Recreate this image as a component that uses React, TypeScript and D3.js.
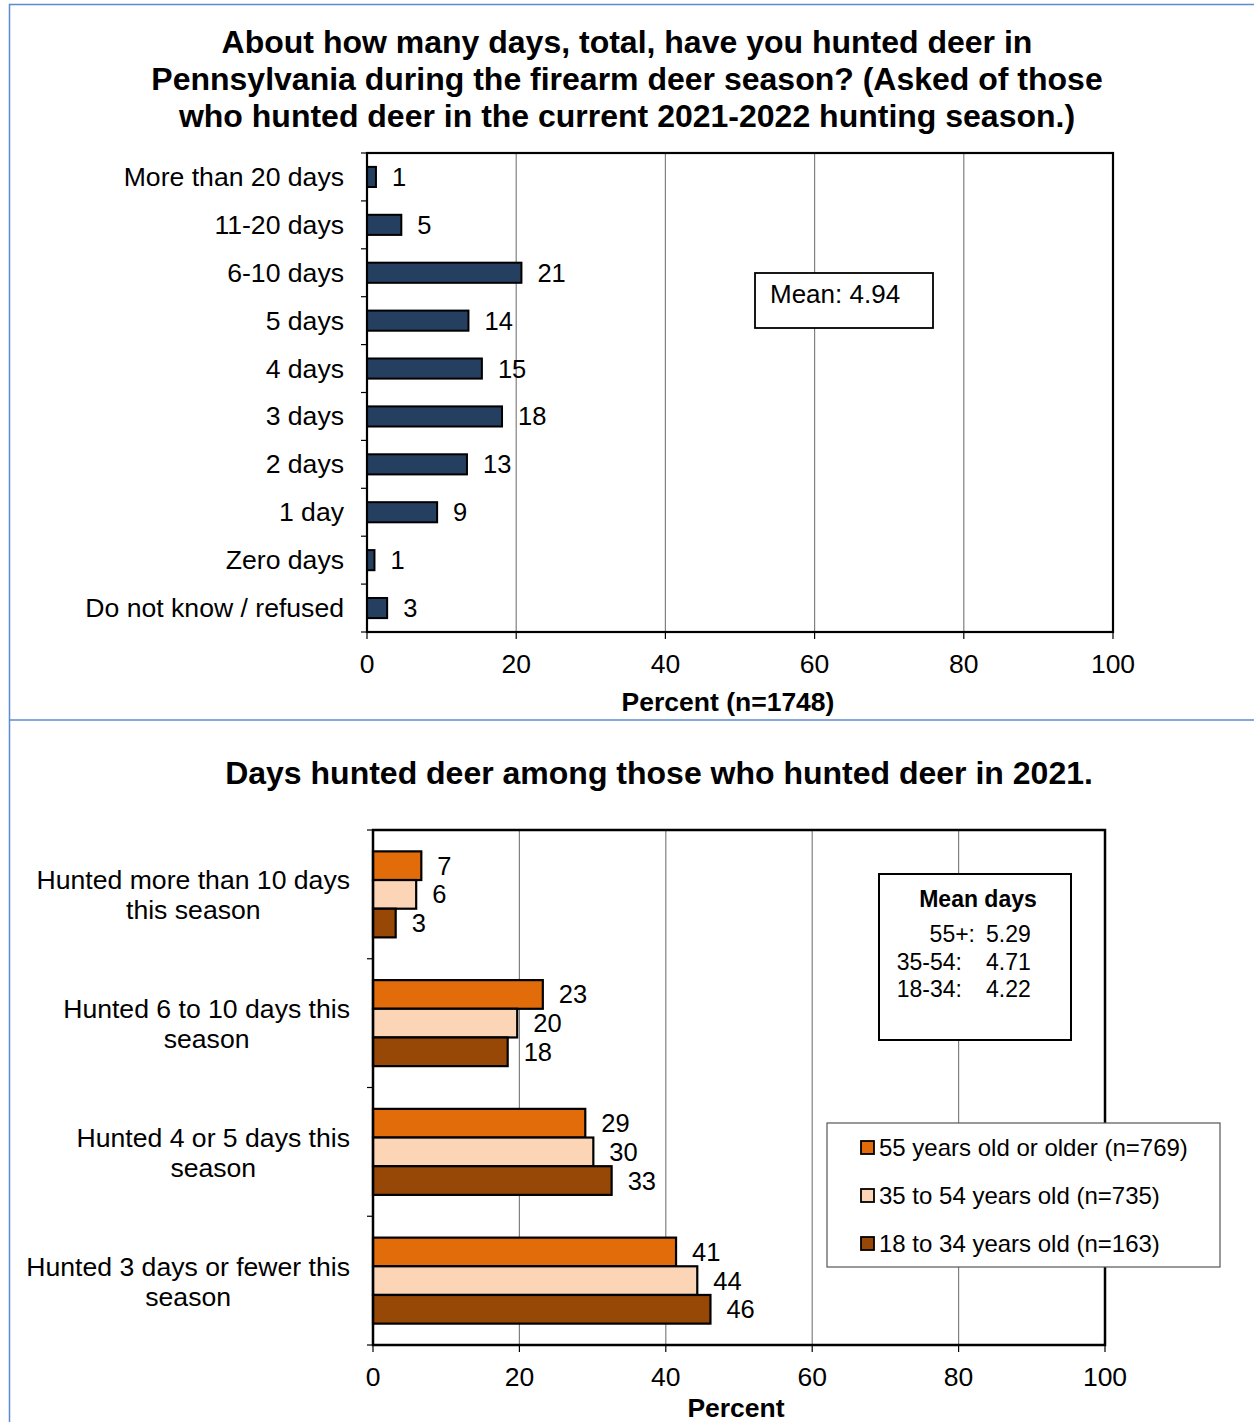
import React from "react";
import * as d3 from "d3";

const topCategories = [
  "More than 20 days",
  "11-20 days",
  "6-10 days",
  "5 days",
  "4 days",
  "3 days",
  "2 days",
  "1 day",
  "Zero days",
  "Do not know / refused",
];
const topValues = [1.2, 4.6, 20.7, 13.6, 15.4, 18.1, 13.4, 9.4, 1.0, 2.7];
const topTitle = [
  "About how many days, total, have you hunted deer in",
  "Pennsylvania during the firearm deer season? (Asked of those",
  "who hunted deer in the current 2021-2022 hunting season.)",
];
const topMean = "Mean: 4.94";
const topAxisTitle = "Percent (n=1748)";
const xTicks = [0, 20, 40, 60, 80, 100];

const bottomGroups = [
  ["Hunted more than 10 days", "this season"],
  ["Hunted 6 to 10 days this", "season"],
  ["Hunted 4 or 5 days this", "season"],
  ["Hunted 3 days or fewer this", "season"],
];
const seriesNames = [
  "55 years old or older (n=769)",
  "35 to 54 years old (n=735)",
  "18 to 34 years old (n=163)",
];
const seriesColors = ["#E36C0A", "#FBD5B5", "#974806"];
const series55 = [6.6, 23.2, 29.0, 41.4];
const series35 = [5.9, 19.7, 30.1, 44.3];
const series18 = [3.1, 18.4, 32.6, 46.1];
const bottomTitle = "Days hunted deer among those who hunted deer in 2021.";
const meanTitle = "Mean days";
const meanLabels = ["55+:", "35-54:", "18-34:"];
const meanValues = ["5.29", "4.71", "4.22"];
const bottomAxisTitle = "Percent";

const FONT = "'Liberation Sans', Arial, Helvetica, sans-serif";

let ctx: CanvasRenderingContext2D | null = null;
function measure(t: string, size: number): number {
  if (!ctx) {
    const c = document.createElement("canvas");
    ctx = c.getContext("2d");
  }
  if (!ctx) return t.length * size * 0.5;
  ctx.font = `${size}px 'Liberation Sans', Arial, sans-serif`;
  return ctx.measureText(t).width;
}

export default function App() {
  const LABEL = 26.6;
  // top chart scales
  const x1 = d3.scaleLinear().domain([0, 100]).range([367, 1113]);
  const y1 = d3.scaleBand<string>().domain(topCategories).range([153, 632]);
  const bh1 = y1.bandwidth() * 0.42;

  // bottom chart scales
  const x2 = d3.scaleLinear().domain([0, 100]).range([373, 1105]);
  const groupKeys = bottomGroups.map((g) => g.join(" "));
  const y2 = d3.scaleBand<string>().domain(groupKeys).range([830, 1345]);
  const bw2 = y2.bandwidth();
  const innerH = bw2 * 0.668;
  const yInner = d3
    .scaleBand<string>()
    .domain(seriesNames)
    .range([(bw2 - innerH) / 2, (bw2 + innerH) / 2]);
  const allSeries = [series55, series35, series18];

  const bottomBoundaries = [...groupKeys.map((k) => y2(k)!), 1345];
  const topBoundaries = [...topCategories.map((k) => y1(k)!), 632];

  return (
    <svg
      width={1254}
      height={1422}
      style={{ position: "absolute", left: 0, top: 0, background: "#fff" }}
      fontFamily={FONT}
    >
      <rect x={0} y={0} width={1254} height={1422} fill="#fff" />
      {/* blue frame */}
      <line x1={9} y1={4.5} x2={1254} y2={4.5} stroke="#5B8BD2" strokeWidth={1.5} />
      <line x1={9.5} y1={4} x2={9.5} y2={1422} stroke="#5B8BD2" strokeWidth={1.5} />
      <line x1={9} y1={720} x2={1254} y2={720} stroke="#5B8BD2" strokeWidth={1.5} />

      {/* ===== TOP CHART ===== */}
      {topTitle.map((t, i) => (
        <text
          key={i}
          x={627}
          y={42 + i * 37}
          textAnchor="middle"
          dominantBaseline="central"
          fontSize={32}
          fontWeight="bold"
        >
          {t}
        </text>
      ))}
      {/* gridlines */}
      {xTicks.slice(1, -1).map((t) => (
        <line key={t} x1={x1(t)} x2={x1(t)} y1={153} y2={632} stroke="#808080" strokeWidth={1.2} />
      ))}
      {/* bars */}
      {topCategories.map((c, i) => (
        <rect
          key={c}
          x={x1(0)}
          y={y1(c)! + (y1.bandwidth() - bh1) / 2}
          width={x1(topValues[i]) - x1(0)}
          height={bh1}
          fill="#243F60"
          stroke="#000"
          strokeWidth={2}
        />
      ))}
      {topCategories.map((c, i) => (
        <text
          key={c}
          x={x1(topValues[i]) + 16}
          y={y1(c)! + y1.bandwidth() / 2}
          dominantBaseline="central"
          fontSize={25.5}
        >
          {Math.round(topValues[i])}
        </text>
      ))}
      {/* category labels */}
      {topCategories.map((c) => (
        <text
          key={c}
          x={344}
          y={y1(c)! + y1.bandwidth() / 2}
          textAnchor="end"
          dominantBaseline="central"
          fontSize={LABEL}
        >
          {c}
        </text>
      ))}
      {/* plot border */}
      <rect x={367} y={153} width={1113 - 367} height={632 - 153} fill="none" stroke="#000" strokeWidth={2.2} />
      {/* left ticks */}
      {topBoundaries.map((b, i) => (
        <line key={i} x1={361} x2={367} y1={b} y2={b} stroke="#000" strokeWidth={1.2} />
      ))}
      {/* bottom ticks */}
      {xTicks.map((t) => (
        <g key={t}>
          <line x1={x1(t)} x2={x1(t)} y1={632} y2={639} stroke="#000" strokeWidth={1.2} />
          <text x={x1(t)} y={664} textAnchor="middle" dominantBaseline="central" fontSize={26.5}>
            {t}
          </text>
        </g>
      ))}
      <text x={728} y={702} textAnchor="middle" dominantBaseline="central" fontSize={26.5} fontWeight="bold">
        {topAxisTitle}
      </text>
      {/* mean box */}
      <rect x={755} y={273} width={178} height={55} fill="#fff" stroke="#000" strokeWidth={1.8} />
      <text x={770} y={294} dominantBaseline="central" fontSize={26}>
        {topMean}
      </text>

      {/* ===== BOTTOM CHART ===== */}
      <text x={659} y={773} textAnchor="middle" dominantBaseline="central" fontSize={32} fontWeight="bold">
        {bottomTitle}
      </text>
      {xTicks.slice(1, -1).map((t) => (
        <line key={t} x1={x2(t)} x2={x2(t)} y1={830} y2={1345} stroke="#808080" strokeWidth={1.2} />
      ))}
      {groupKeys.map((g, gi) => {
        const blockW = Math.max(...bottomGroups[gi].map((l) => measure(l, LABEL)));
        const cx = 350 - blockW / 2;
        return (
          <g key={g}>
            {seriesNames.map((s, si) => {
              const v = allSeries[si][gi];
              const yy = y2(g)! + yInner(s)!;
              return (
                <g key={s}>
                  <rect
                    x={x2(0)}
                    y={yy}
                    width={x2(v) - x2(0)}
                    height={yInner.bandwidth()}
                    fill={seriesColors[si]}
                    stroke="#000"
                    strokeWidth={2.2}
                  />
                  <text
                    x={x2(v) + 16}
                    y={yy + yInner.bandwidth() / 2}
                    dominantBaseline="central"
                    fontSize={25.5}
                  >
                    {Math.round(v)}
                  </text>
                </g>
              );
            })}
            {bottomGroups[gi].map((line, li) => (
              <text
                key={li}
                x={cx}
                y={y2(g)! + bw2 / 2 - 14 + li * 30}
                textAnchor="middle"
                dominantBaseline="central"
                fontSize={LABEL}
              >
                {line}
              </text>
            ))}
          </g>
        );
      })}
      <rect x={373} y={830} width={1105 - 373} height={1345 - 830} fill="none" stroke="#000" strokeWidth={2.5} />
      {bottomBoundaries.map((b, i) => (
        <line key={i} x1={367} x2={373} y1={b} y2={b} stroke="#000" strokeWidth={1.2} />
      ))}
      {xTicks.map((t) => (
        <g key={t}>
          <line x1={x2(t)} x2={x2(t)} y1={1345} y2={1352} stroke="#000" strokeWidth={1.2} />
          <text x={x2(t)} y={1377} textAnchor="middle" dominantBaseline="central" fontSize={26.5}>
            {t}
          </text>
        </g>
      ))}
      <text x={736} y={1408} textAnchor="middle" dominantBaseline="central" fontSize={26.5} fontWeight="bold">
        {bottomAxisTitle}
      </text>

      {/* mean days box */}
      <rect x={879} y={874} width={192} height={166} fill="#fff" stroke="#000" strokeWidth={2} />
      <text x={978} y={899} textAnchor="middle" dominantBaseline="central" fontSize={23} fontWeight="bold">
        {meanTitle}
      </text>
      {meanLabels.map((l, i) => (
        <g key={l}>
          <text x={i === 0 ? 975 : 962} y={934 + i * 27.5} textAnchor="end" dominantBaseline="central" fontSize={23}>
            {l}
          </text>
          <text x={986} y={934 + i * 27.5} dominantBaseline="central" fontSize={23}>
            {meanValues[i]}
          </text>
        </g>
      ))}

      {/* legend */}
      <rect x={827} y={1123} width={393} height={144} fill="#fff" stroke="#555" strokeWidth={1.2} />
      {seriesNames.map((s, i) => (
        <g key={s}>
          <rect x={861} y={1141 + i * 48} width={13} height={13} fill={seriesColors[i]} stroke="#000" strokeWidth={1.8} />
          <text x={879} y={1147 + i * 48} dominantBaseline="central" fontSize={24}>
            {s}
          </text>
        </g>
      ))}
    </svg>
  );
}
